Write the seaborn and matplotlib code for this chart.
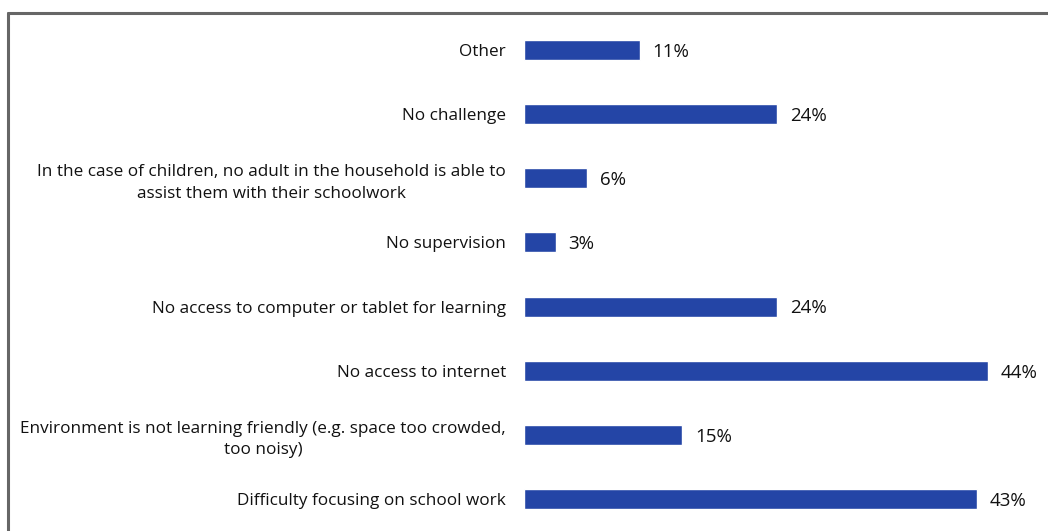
import matplotlib
matplotlib.use("Agg")
import matplotlib.pyplot as plt
from matplotlib.lines import Line2D
import seaborn as sns
import pandas as pd

categories = [
    "Other",
    "No challenge",
    "In the case of children, no adult in the household is able to\nassist them with their schoolwork",
    "No supervision",
    "No access to computer or tablet for learning",
    "No access to internet",
    "Environment is not learning friendly (e.g. space too crowded,\ntoo noisy)",
    "Difficulty focusing on school work",
]
values = [11, 24, 6, 3, 24, 44, 15, 43]

df = pd.DataFrame({"category": categories, "value": values})

sns.set_theme(style="white")
plt.rcParams["font.family"] = ["Open Sans", "DejaVu Sans"]

fig = plt.figure(figsize=(10.48, 5.31), dpi=100)
ax = fig.add_axes([0.5, 0.0, 0.5, 1 - 18 / 531])

sns.barplot(data=df, x="value", y="category", orient="h", color="#2445A6",
            width=0.31, saturation=1, ax=ax)

ax.set_xlim(0, 49.7)
ax.set_ylim(7.5, -0.5)
ax.set_xlabel("")
ax.set_ylabel("")
ax.set_xticks([])
for s in ax.spines.values():
    s.set_visible(False)
ax.tick_params(axis="y", length=0, pad=13, labelsize=12.3, labelcolor="#111111")
for lab in ax.get_yticklabels():
    lab.set_multialignment("center")
    lab.set_linespacing(1.45)

for i, v in enumerate(values):
    ax.text(v + 1.2, i + 0.03, f"{v}%", va="center", ha="left", fontsize=13.5, color="#111111")

fig.add_artist(Line2D([8 / 1048, 1.0], [1 - 13 / 531, 1 - 13 / 531], color="#666666", lw=2.2,
                      transform=fig.transFigure))
fig.add_artist(Line2D([8 / 1048, 8 / 1048], [0, 1 - 13 / 531], color="#666666", lw=2.2,
                      transform=fig.transFigure))

fig.savefig("out.png", dpi=100)
